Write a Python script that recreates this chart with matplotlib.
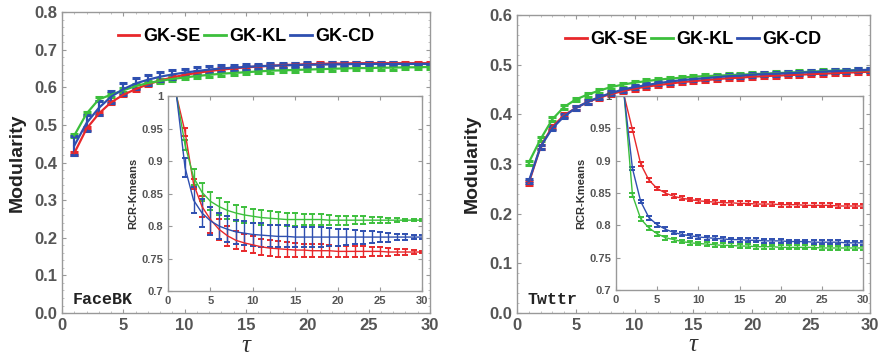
import numpy as np
import matplotlib
matplotlib.use("Agg")
import matplotlib.pyplot as plt
from matplotlib.ticker import MultipleLocator

tau = list(range(1, 31))
methods = ["GK-SE", "GK-KL", "GK-CD"]
colors = ["#e8282b", "#3cbf3c", "#2e4fb0"]

# FaceBK modularity
fb_se = [0.425, 0.49, 0.53, 0.56, 0.58, 0.595, 0.608, 0.618, 0.626, 0.633, 0.638, 0.643, 0.647, 0.650, 0.653,
         0.655, 0.657, 0.659, 0.660, 0.661, 0.662, 0.663, 0.663, 0.664, 0.664, 0.664, 0.664, 0.664, 0.664, 0.664]
fb_kl = [0.472, 0.53, 0.568, 0.58, 0.592, 0.603, 0.611, 0.617, 0.622, 0.626, 0.630, 0.633, 0.636, 0.638, 0.640,
         0.642, 0.644, 0.645, 0.646, 0.647, 0.648, 0.649, 0.650, 0.651, 0.651, 0.652, 0.652, 0.653, 0.653, 0.654]
fb_cd = [0.445, 0.505, 0.545, 0.575, 0.595, 0.61, 0.62, 0.628, 0.634, 0.639, 0.643, 0.647, 0.650, 0.652, 0.654,
         0.656, 0.657, 0.658, 0.659, 0.660, 0.660, 0.661, 0.661, 0.662, 0.662, 0.662, 0.662, 0.662, 0.662, 0.662]
fb_se_err = [0.004] * 30
fb_kl_err = [0.005] * 30
fb_cd_err = [0.025, 0.02, 0.018, 0.016, 0.015, 0.014, 0.013, 0.012, 0.011, 0.010, 0.010, 0.009, 0.009, 0.008, 0.008,
             0.007, 0.007, 0.006, 0.006, 0.006, 0.005, 0.005, 0.005, 0.004, 0.004, 0.004, 0.004, 0.003, 0.003, 0.003]

# FaceBK RCR-Kmeans
fbi_se = [1.0, 0.945, 0.865, 0.83, 0.81, 0.795, 0.785, 0.778, 0.774, 0.771, 0.768, 0.766, 0.765, 0.764, 0.763,
          0.763, 0.762, 0.762, 0.762, 0.761, 0.761, 0.761, 0.761, 0.761, 0.761, 0.760, 0.760, 0.760, 0.760, 0.760]
fbi_kl = [1.0, 0.925, 0.875, 0.852, 0.838, 0.830, 0.824, 0.820, 0.817, 0.815, 0.813, 0.812, 0.811, 0.810, 0.810,
          0.810, 0.810, 0.810, 0.809, 0.809, 0.809, 0.809, 0.809, 0.809, 0.809, 0.809, 0.809, 0.809, 0.809, 0.809]
fbi_cd = [1.0, 0.89, 0.84, 0.82, 0.808, 0.80, 0.795, 0.791, 0.789, 0.787, 0.786, 0.785, 0.784, 0.784, 0.783,
          0.783, 0.783, 0.783, 0.783, 0.783, 0.783, 0.783, 0.783, 0.783, 0.783, 0.783, 0.783, 0.783, 0.783, 0.783]
fbi_se_err = [0.0, 0.006, 0.008, 0.016, 0.02, 0.016, 0.015, 0.014, 0.013, 0.013, 0.012, 0.012, 0.012, 0.011, 0.011,
              0.010, 0.010, 0.010, 0.009, 0.009, 0.009, 0.008, 0.008, 0.007, 0.007, 0.006, 0.005, 0.004, 0.003, 0.002]
fbi_kl_err = [0.0, 0.008, 0.012, 0.014, 0.014, 0.013, 0.013, 0.012, 0.012, 0.011, 0.011, 0.011, 0.010, 0.010, 0.010,
              0.009, 0.009, 0.008, 0.008, 0.007, 0.007, 0.006, 0.006, 0.005, 0.005, 0.004, 0.003, 0.002, 0.002, 0.002]
fbi_cd_err = [0.0, 0.015, 0.02, 0.022, 0.022, 0.02, 0.02, 0.019, 0.018, 0.018, 0.018, 0.017, 0.017, 0.017, 0.016,
              0.016, 0.015, 0.015, 0.014, 0.013, 0.012, 0.011, 0.010, 0.009, 0.008, 0.007, 0.005, 0.004, 0.003, 0.003]

# Twttr modularity
tw_se = [0.262, 0.335, 0.375, 0.398, 0.413, 0.425, 0.434, 0.441, 0.447, 0.452, 0.456, 0.459, 0.462, 0.465, 0.467,
         0.469, 0.471, 0.473, 0.474, 0.476, 0.477, 0.478, 0.479, 0.480, 0.481, 0.482, 0.483, 0.484, 0.485, 0.486]
tw_kl = [0.303, 0.35, 0.39, 0.415, 0.43, 0.44, 0.448, 0.455, 0.46, 0.464, 0.467, 0.470, 0.472, 0.474, 0.476,
         0.477, 0.478, 0.479, 0.480, 0.481, 0.482, 0.483, 0.484, 0.485, 0.486, 0.487, 0.488, 0.488, 0.489, 0.489]
tw_cd = [0.265, 0.335, 0.372, 0.396, 0.413, 0.425, 0.435, 0.443, 0.450, 0.455, 0.459, 0.463, 0.466, 0.469, 0.471,
         0.473, 0.475, 0.477, 0.478, 0.480, 0.481, 0.482, 0.483, 0.484, 0.485, 0.486, 0.487, 0.488, 0.489, 0.490]
tw_err = [0.004] * 30

# Twttr RCR-Kmeans
twi_se = [1.0, 0.948, 0.895, 0.870, 0.857, 0.850, 0.845, 0.842, 0.840, 0.838, 0.837, 0.836, 0.835, 0.835, 0.834,
          0.834, 0.833, 0.833, 0.833, 0.832, 0.832, 0.832, 0.831, 0.831, 0.831, 0.831, 0.830, 0.830, 0.830, 0.830]
twi_kl = [1.0, 0.847, 0.810, 0.796, 0.787, 0.781, 0.778, 0.775, 0.773, 0.772, 0.771, 0.770, 0.769, 0.769, 0.768,
          0.768, 0.767, 0.767, 0.767, 0.766, 0.766, 0.766, 0.766, 0.766, 0.765, 0.765, 0.765, 0.765, 0.765, 0.765]
twi_cd = [1.0, 0.888, 0.837, 0.812, 0.801, 0.794, 0.789, 0.786, 0.784, 0.782, 0.781, 0.780, 0.779, 0.778, 0.778,
          0.777, 0.777, 0.776, 0.776, 0.776, 0.775, 0.775, 0.775, 0.774, 0.774, 0.774, 0.774, 0.773, 0.773, 0.773]
twi_err = [0.0] + [0.003] * 29

TICK_C = "#555555"
plt.rcParams["font.family"] = ["Liberation Sans", "DejaVu Sans"]

fig = plt.figure(figsize=(8.8, 3.59), dpi=100)


def style(ax, fs, bold=True):
    for s in ax.spines.values():
        s.set_color("#999999")
        s.set_linewidth(1.0)
    ax.tick_params(direction="in", top=True, right=True, colors="#999999",
                   labelcolor=TICK_C, labelsize=fs, length=3, width=0.8)
    ax.tick_params(which="minor", direction="in", top=True, right=True,
                   colors="#aaaaaa", length=1.5, width=0.5)
    for lab in ax.get_xticklabels() + ax.get_yticklabels():
        lab.set_fontweight("bold" if bold else "normal")


def series(ax, ys, errs, lw, cap, ms):
    handles = []
    for y, e, c in zip(ys, errs, colors):
        h = ax.errorbar(tau, y, yerr=e, color=c, lw=lw, capsize=cap, capthick=ms,
                        elinewidth=lw)
        handles.append(h)
    return handles


def main_panel(rect, ys, errs, ymax, name):
    ax = fig.add_axes(rect)
    series(ax, ys, errs, 1.6, 3, 2.2)
    ax.set_xlim(0, 30)
    ax.set_ylim(0, ymax)
    ax.xaxis.set_major_locator(MultipleLocator(5))
    ax.yaxis.set_major_locator(MultipleLocator(0.1))
    ax.xaxis.set_minor_locator(MultipleLocator(1))
    ax.yaxis.set_minor_locator(MultipleLocator(0.02))
    ax.set_ylabel("Modularity", fontsize=14, fontweight="bold", color="#222222", labelpad=6)
    ax.set_xlabel("τ", fontsize=18, family="Liberation Serif", style="italic",
                  color="#333333", va="center")
    ax.xaxis.set_label_coords(0.5, -0.108)
    style(ax, 12)
    lines = [plt.Line2D([], [], color=c, lw=2) for c in colors]
    ax.legend(lines, methods, loc="upper center", ncol=3, frameon=False,
              prop={"weight": "bold", "size": 13}, handlelength=1.2,
              handletextpad=0.2, columnspacing=0.2, bbox_to_anchor=(0.5, 1.0))
    ax.text(0.03, 0.03, name, transform=ax.transAxes, fontsize=12,
            family="Liberation Mono", fontweight="bold", color="#222222")
    return ax


def inset_panel(rect, ys, errs):
    ax = fig.add_axes(rect)
    series(ax, ys, errs, 1.0, 2, 1.4)
    ax.set_xlim(0, 30)
    ax.set_ylim(0.7, 1.0)
    ax.xaxis.set_major_locator(MultipleLocator(5))
    ax.set_yticks([0.7, 0.75, 0.8, 0.85, 0.9, 0.95, 1.0])
    ax.set_yticklabels(["0.7", "0.75", "0.8", "0.85", "0.9", "0.95", "1"])
    ax.set_ylabel("RCR-Kmeans", fontsize=8, fontweight="bold", color="#333333", labelpad=2)
    style(ax, 8)
    return ax


main_panel([0.0705, 0.128, 0.418, 0.8386], [fb_se, fb_kl, fb_cd], [fb_se_err, fb_kl_err, fb_cd_err], 0.8, "FaceBK")
inset_panel([0.191, 0.1894, 0.289, 0.543], [fbi_se, fbi_kl, fbi_cd], [fbi_se_err, fbi_kl_err, fbi_cd_err])

main_panel([0.5875, 0.128, 0.401, 0.830], [tw_se, tw_kl, tw_cd], [tw_err, tw_err, tw_err], 0.6, "Twttr")
inset_panel([0.70, 0.1922, 0.2807, 0.540], [twi_se, twi_kl, twi_cd], [twi_err, twi_err, twi_err])

fig.savefig("out.png", dpi=100)
